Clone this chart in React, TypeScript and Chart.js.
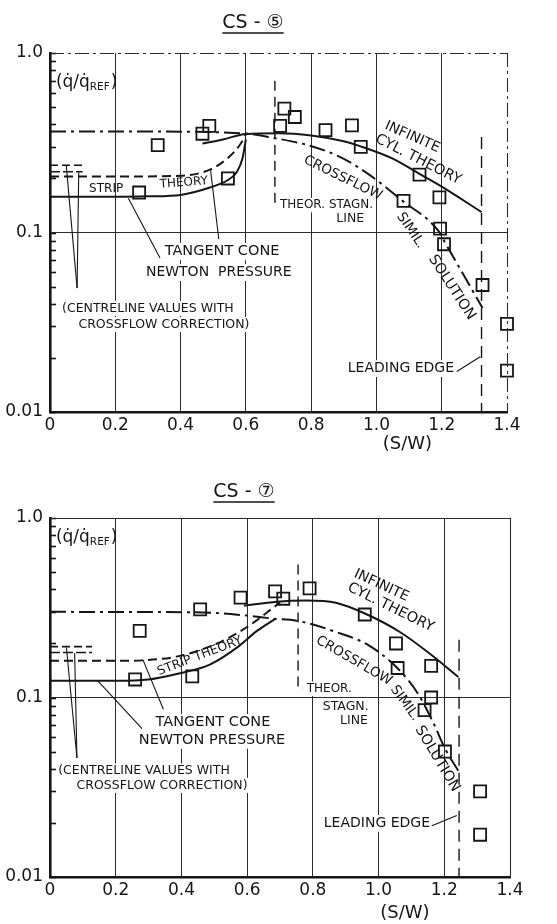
import React, { useEffect, useRef } from "react";
import { Chart, registerables } from "chart.js";

Chart.register(...registerables);

const FONT = "'DejaVu Sans', 'Noto Sans CJK JP', sans-serif";
const INK = "#161616";
const GRID = "#2c2c2c";

// ---------- shared axes ----------
const xTickValues = [0, 0.2, 0.4, 0.6, 0.8, 1.0, 1.2, 1.4];
const xTickLabels = ["0", "0.2", "0.4", "0.6", "0.8", "1.0", "1.2", "1.4"];
const yTickValues = [
  0.01, 0.02, 0.03, 0.04, 0.05, 0.06, 0.07, 0.08, 0.09,
  0.1, 0.2, 0.3, 0.4, 0.5, 0.6, 0.7, 0.8, 0.9, 1,
];
const yMajorValues = [0.01, 0.1, 1];
const yMajorLabels = ["0.01", "0.1", "1.0"];

// ---------- CS-5 ----------
const cs5MeasX = [0.273, 0.33, 0.467, 0.488, 0.545, 0.705, 0.718, 0.75, 0.844, 0.925, 0.952, 1.083, 1.132, 1.193, 1.195, 1.207, 1.325, 1.4, 1.4];
const cs5MeasY = [0.167, 0.307, 0.355, 0.393, 0.2, 0.393, 0.49, 0.44, 0.372, 0.395, 0.3, 0.15, 0.21, 0.157, 0.105, 0.086, 0.051, 0.031, 0.017];
const cs5CrossX = [0, 0.3, 0.6, 0.69, 0.78, 0.88, 0.97, 1.08, 1.19, 1.21, 1.325];
const cs5CrossY = [0.365, 0.365, 0.356, 0.335, 0.31, 0.268, 0.215, 0.15, 0.102, 0.088, 0.038];
const cs5InfX = [0.467, 0.53, 0.6, 0.7, 0.8, 0.9, 0.952, 1.05, 1.132, 1.2, 1.322];
const cs5InfY = [0.313, 0.33, 0.354, 0.357, 0.347, 0.322, 0.302, 0.258, 0.212, 0.18, 0.13];
const cs5StripX = [0, 0.2, 0.3, 0.4, 0.49, 0.545, 0.573, 0.59, 0.6];
const cs5StripY = [0.158, 0.158, 0.159, 0.162, 0.178, 0.196, 0.218, 0.26, 0.33];
const cs5ConeX = [0, 0.2, 0.4, 0.49, 0.545, 0.583, 0.6];
const cs5ConeY = [0.205, 0.205, 0.207, 0.224, 0.26, 0.31, 0.352];
const cs5StagX = [0.689, 0.689, 0.703];
const cs5StagY = [0.7, 0.148, 0.148];
const cs5EdgeX = [1.322, 1.322];
const cs5EdgeY = [0.34, 0.01];
const cs5CentreX = [0, 0.1];
const cs5CentreHiY = [0.237, 0.237];
const cs5CentreLoY = [0.218, 0.218];

// ---------- CS-7 ----------
const cs7MeasX = [0.259, 0.273, 0.433, 0.457, 0.58, 0.685, 0.71, 0.79, 0.958, 1.053, 1.058, 1.16, 1.16, 1.14, 1.202, 1.309, 1.309];
const cs7MeasY = [0.126, 0.235, 0.131, 0.31, 0.36, 0.39, 0.355, 0.405, 0.29, 0.2, 0.146, 0.15, 0.1, 0.085, 0.05, 0.03, 0.0172];
const cs7CrossX = [0, 0.46, 0.6, 0.68, 0.75, 0.87, 0.97, 1.057, 1.12, 1.167, 1.202, 1.243];
const cs7CrossY = [0.3, 0.298, 0.286, 0.275, 0.268, 0.232, 0.195, 0.146, 0.105, 0.072, 0.052, 0.039];
const cs7InfX = [0.59, 0.69, 0.78, 0.87, 0.965, 1.066, 1.162, 1.243];
const cs7InfY = [0.325, 0.342, 0.347, 0.337, 0.29, 0.231, 0.172, 0.13];
const cs7StripX = [0, 0.2, 0.3, 0.392, 0.488, 0.573, 0.63, 0.685];
const cs7StripY = [0.124, 0.124, 0.126, 0.136, 0.153, 0.192, 0.235, 0.274];
const cs7ConeX = [0, 0.2, 0.28, 0.392, 0.497, 0.573, 0.63, 0.673, 0.7];
const cs7ConeY = [0.16, 0.16, 0.161, 0.17, 0.196, 0.23, 0.27, 0.31, 0.338];
const cs7StagX = [0.755, 0.755, 0.77];
const cs7StagY = [0.55, 0.113, 0.113];
const cs7EdgeX = [1.245, 1.245];
const cs7EdgeY = [0.21, 0.01];
const cs7CentreX = [0, 0.128];
const cs7CentreHiY = [0.192, 0.192];
const cs7CentreLoY = [0.178, 0.178];

type Label = { text: string; x: number; y: number; rot: number; size: number; bg?: boolean };
type Leader = { x: number[]; y: number[] };

const cs5Leaders: Leader[] = [
  { x: [0.05, 0.083], y: [0.235, 0.049] },
  { x: [0.088, 0.083], y: [0.216, 0.049] },
  { x: [0.24, 0.337], y: [0.155, 0.072] },
  { x: [0.492, 0.517], y: [0.222, 0.092] },
  { x: [1.246, 1.318], y: [0.0168, 0.0203] },
];
const cs7Leaders: Leader[] = [
  { x: [0.05, 0.082], y: [0.19, 0.046] },
  { x: [0.075, 0.082], y: [0.177, 0.046] },
  { x: [0.145, 0.28], y: [0.124, 0.067] },
  { x: [0.283, 0.345], y: [0.162, 0.086] },
  { x: [1.162, 1.238], y: [0.0193, 0.022] },
];

const cs5Labels: Label[] = [
  { text: "STRIP", x: 0.172, y: 0.175, rot: 0, size: 12 },
  { text: "THEORY", x: 0.41, y: 0.189, rot: -4, size: 12 },
  { text: "INFINITE", x: 1.11, y: 0.34, rot: 24, size: 14 },
  { text: "CYL. THEORY", x: 1.128, y: 0.255, rot: 27, size: 14.5 },
  { text: "CROSSFLOW", x: 0.897, y: 0.201, rot: 26, size: 13.5 },
  { text: "SIMIL.", x: 1.105, y: 0.1026, rot: 56, size: 13.5 },
  { text: "SOLUTION", x: 1.231, y: 0.0494, rot: 57, size: 14.5 },
  { text: "THEOR. STAGN.", x: 0.847, y: 0.142, rot: 0, size: 12, bg: true },
  { text: "LINE", x: 0.92, y: 0.12, rot: 0, size: 12.5, bg: true },
  { text: "TANGENT CONE", x: 0.527, y: 0.0784, rot: 0, size: 14.5, bg: true },
  { text: "NEWTON  PRESSURE", x: 0.517, y: 0.0598, rot: 0, size: 14, bg: true },
  { text: "(CENTRELINE VALUES WITH", x: 0.3, y: 0.0378, rot: 0, size: 12.5, bg: true },
  { text: "CROSSFLOW CORRECTION)", x: 0.349, y: 0.0307, rot: 0, size: 12.5, bg: true },
  { text: "LEADING EDGE", x: 1.075, y: 0.01746, rot: 0, size: 14, bg: true },
];
const cs7Labels: Label[] = [
  { text: "STRIP THEORY", x: 0.456, y: 0.17, rot: -21, size: 12.5 },
  { text: "INFINITE", x: 1.009, y: 0.42, rot: 25, size: 14 },
  { text: "CYL. THEORY", x: 1.037, y: 0.317, rot: 26, size: 14.5 },
  { text: "CROSSFLOW", x: 0.925, y: 0.16, rot: 30, size: 13.5 },
  { text: "SIMIL.", x: 1.08, y: 0.093, rot: 54, size: 13.5 },
  { text: "SOLUTION", x: 1.179, y: 0.0455, rot: 59, size: 14.5 },
  { text: "THEOR.", x: 0.85, y: 0.112, rot: 0, size: 12, bg: true },
  { text: "STAGN.", x: 0.9, y: 0.089, rot: 0, size: 12.5, bg: true },
  { text: "LINE", x: 0.925, y: 0.0744, rot: 0, size: 12.5, bg: true },
  { text: "TANGENT CONE", x: 0.496, y: 0.0724, rot: 0, size: 14.5, bg: true },
  { text: "NEWTON PRESSURE", x: 0.493, y: 0.058, rot: 0, size: 14.5, bg: true },
  { text: "(CENTRELINE VALUES WITH", x: 0.286, y: 0.0389, rot: 0, size: 12.5, bg: true },
  { text: "CROSSFLOW CORRECTION)", x: 0.341, y: 0.0324, rot: 0, size: 12.5, bg: true },
  { text: "LEADING EDGE", x: 0.995, y: 0.0199, rot: 0, size: 14, bg: true },
];

type Spec = {
  title: string;
  titleX: number;
  titleBaseline: number;
  padTop: number;
  padRight: number;
  xAxisH: number;
  measX: number[];
  measY: number[];
  crossX: number[];
  crossY: number[];
  infX: number[];
  infY: number[];
  stripX: number[];
  stripY: number[];
  coneX: number[];
  coneY: number[];
  stagX: number[];
  stagY: number[];
  edgeX: number[];
  edgeY: number[];
  centreX: number[];
  centreHiY: number[];
  centreLoY: number[];
  leaders: Leader[];
  labels: Label[];
  qLabelX: number;
  qLabelY: number;
  xTitleX: number;
  xTitleDy: number;
  dashedFrame: boolean;
};

const spec5: Spec = {
  title: "CS - ⑤", titleX: 253, titleBaseline: 28, padTop: 53, padRight: 50, xAxisH: 50,
  measX: cs5MeasX, measY: cs5MeasY, crossX: cs5CrossX, crossY: cs5CrossY,
  infX: cs5InfX, infY: cs5InfY, stripX: cs5StripX, stripY: cs5StripY,
  coneX: cs5ConeX, coneY: cs5ConeY, stagX: cs5StagX, stagY: cs5StagY,
  edgeX: cs5EdgeX, edgeY: cs5EdgeY, centreX: cs5CentreX, centreHiY: cs5CentreHiY, centreLoY: cs5CentreLoY,
  leaders: cs5Leaders, labels: cs5Labels, qLabelX: 0.018, qLabelY: 0.68,
  xTitleX: 1.095, xTitleDy: 32, dashedFrame: true,
};
const spec7: Spec = {
  title: "CS - ⑦", titleX: 244, titleBaseline: 35, padTop: 56, padRight: 47, xAxisH: 47,
  measX: cs7MeasX, measY: cs7MeasY, crossX: cs7CrossX, crossY: cs7CrossY,
  infX: cs7InfX, infY: cs7InfY, stripX: cs7StripX, stripY: cs7StripY,
  coneX: cs7ConeX, coneY: cs7ConeY, stagX: cs7StagX, stagY: cs7StagY,
  edgeX: cs7EdgeX, edgeY: cs7EdgeY, centreX: cs7CentreX, centreHiY: cs7CentreHiY, centreLoY: cs7CentreLoY,
  leaders: cs7Leaders, labels: cs7Labels, qLabelX: 0.018, qLabelY: 0.775,
  xTitleX: 1.08, xTitleDy: 36, dashedFrame: false,
};

const pts = (xs: number[], ys: number[]) => xs.map((x, i) => ({ x, y: ys[i] }));

const lineDs = (xs: number[], ys: number[], extra: any = {}) => ({
  data: pts(xs, ys),
  showLine: true,
  pointRadius: 0,
  pointHoverRadius: 0,
  borderColor: INK,
  backgroundColor: INK,
  borderWidth: 2,
  fill: false,
  tension: 0,
  ...extra,
});

const near = (a: number, b: number) => Math.abs(a - b) < 1e-9 * Math.max(1, b) + 1e-12;

function buildConfig(s: Spec): any {
  const datasets: any[] = [
    lineDs(s.crossX, s.crossY, { borderDash: [16, 5, 3, 5], cubicInterpolationMode: "monotone" }),
    lineDs(s.infX, s.infY, { cubicInterpolationMode: "monotone" }),
    lineDs(s.stripX, s.stripY, { cubicInterpolationMode: "monotone" }),
    lineDs(s.coneX, s.coneY, { borderDash: [9, 5], cubicInterpolationMode: "monotone" }),
    lineDs(s.stagX, s.stagY, { borderDash: [10, 6], borderWidth: 1.4 }),
    lineDs(s.edgeX, s.edgeY, { borderDash: [12, 7], borderWidth: 1.4, clip: false }),
    lineDs(s.centreX, s.centreHiY, { borderDash: [8, 4], borderWidth: 1.6 }),
    lineDs(s.centreX, s.centreLoY, { borderDash: [10, 3], borderWidth: 1.6 }),
    ...s.leaders.map((l) => lineDs(l.x, l.y, { borderWidth: 1.1 })),
    {
      data: pts(s.measX, s.measY),
      showLine: false,
      pointStyle: "rect",
      pointRadius: 8.5,
      pointHoverRadius: 8.5,
      pointBorderWidth: 1.8,
      borderColor: INK,
      backgroundColor: "rgba(0,0,0,0)",
      clip: false,
    },
  ];

  const decor = {
    id: "decor" + s.title,
    beforeDatasetsDraw(chart: any) {
      const ctx = chart.ctx;
      const xs = chart.scales.x;
      const ys = chart.scales.y;
      ctx.save();
      for (const l of s.labels) {
        const px = xs.getPixelForValue(l.x);
        const py = ys.getPixelForValue(l.y);
        ctx.font = `${l.size}px ${FONT}`;
        ctx.textAlign = "center";
        ctx.textBaseline = "middle";
        ctx.save();
        ctx.translate(px, py);
        ctx.rotate((l.rot * Math.PI) / 180);
        if (l.bg) {
          const w = ctx.measureText(l.text).width;
          ctx.fillStyle = "#ffffff";
          ctx.fillRect(-w / 2 - 2, -l.size * 0.6, w + 4, l.size * 1.2);
        }
        ctx.fillStyle = INK;
        ctx.fillText(l.text, 0, 0);
        ctx.restore();
      }
      ctx.restore();
    },
    afterDraw(chart: any) {
      const ctx = chart.ctx;
      const xs = chart.scales.x;
      const ys = chart.scales.y;
      const a = chart.chartArea;
      ctx.save();
      // inward minor ticks on y axis
      ctx.strokeStyle = INK;
      ctx.lineWidth = 1.6;
      for (const v of yTickValues) {
        const py = Math.round(ys.getPixelForValue(v)) + 0.5;
        ctx.beginPath();
        ctx.moveTo(a.left, py);
        ctx.lineTo(a.left + 6, py);
        ctx.stroke();
      }
      // top & right frame
      ctx.lineWidth = 1.1;
      ctx.strokeStyle = GRID;
      ctx.setLineDash(s.dashedFrame ? [14, 4, 3, 4] : []);
      ctx.beginPath();
      ctx.moveTo(a.left, a.top + 0.5);
      ctx.lineTo(a.right, a.top + 0.5);
      ctx.moveTo(a.right + 0.5, a.top);
      ctx.lineTo(a.right + 0.5, a.bottom);
      ctx.stroke();
      ctx.setLineDash([]);
      // title with underline
      ctx.fillStyle = INK;
      ctx.font = `19px ${FONT}`;
      ctx.textAlign = "center";
      ctx.textBaseline = "alphabetic";
      ctx.fillText(s.title, s.titleX, s.titleBaseline);
      const tw = ctx.measureText(s.title).width;
      ctx.lineWidth = 1.6;
      ctx.strokeStyle = INK;
      ctx.beginPath();
      ctx.moveTo(s.titleX - tw / 2, s.titleBaseline + 5);
      ctx.lineTo(s.titleX + tw / 2, s.titleBaseline + 5);
      ctx.stroke();
      // (q/q REF) label
      const qx = xs.getPixelForValue(s.qLabelX);
      const qy = ys.getPixelForValue(s.qLabelY);
      ctx.textAlign = "left";
      ctx.textBaseline = "middle";
      ctx.font = `17px ${FONT}`;
      const part1 = "(q\u0307/q\u0307";
      ctx.fillText(part1, qx, qy);
      let cx = qx + ctx.measureText(part1).width;
      ctx.font = `10.5px ${FONT}`;
      ctx.fillText("REF", cx, qy + 4);
      cx += ctx.measureText("REF").width + 1;
      ctx.font = `17px ${FONT}`;
      ctx.fillText(")", cx, qy);
      // x axis title
      ctx.textAlign = "center";
      ctx.font = `18px ${FONT}`;
      ctx.fillText("(S/W)", xs.getPixelForValue(s.xTitleX), a.bottom + s.xTitleDy);
      ctx.restore();
    },
  };

  return {
    type: "scatter",
    data: { datasets },
    options: {
      responsive: false,
      animation: false,
      devicePixelRatio: 1,
      events: [],
      layout: { padding: { top: s.padTop, right: s.padRight, left: 0, bottom: 0 } },
      plugins: { legend: { display: false }, tooltip: { enabled: false }, title: { display: false } },
      scales: {
        x: {
          type: "linear",
          min: 0,
          max: 1.4,
          afterBuildTicks: (sc: any) => {
            sc.ticks = xTickValues.map((v) => ({ value: v }));
          },
          afterFit: (sc: any) => {
            sc.height = s.xAxisH;
          },
          ticks: {
            autoSkip: false,
            maxRotation: 0,
            padding: 3,
            color: INK,
            font: { family: FONT, size: 17 },
            callback: (v: number) => {
              const i = xTickValues.findIndex((t) => near(t, v));
              return i >= 0 ? xTickLabels[i] : "";
            },
          },
          grid: {
            drawTicks: false,
            lineWidth: 1,
            color: (c: any) => {
              const v = c.tick ? c.tick.value : -1;
              return near(v, 0) || near(v, 1.4) ? "rgba(0,0,0,0)" : GRID;
            },
          },
          border: { color: INK, width: 2.6 },
        },
        y: {
          type: "logarithmic",
          min: 0.01,
          max: 1,
          afterBuildTicks: (sc: any) => {
            sc.ticks = yTickValues.map((v) => ({ value: v }));
          },
          afterFit: (sc: any) => {
            sc.width = 50;
          },
          ticks: {
            autoSkip: false,
            padding: 7,
            color: INK,
            font: { family: FONT, size: 17 },
            callback: (v: number) => {
              const i = yMajorValues.findIndex((t) => near(t, v));
              return i >= 0 ? yMajorLabels[i] : "";
            },
          },
          grid: {
            drawTicks: false,
            lineWidth: 1,
            color: (c: any) => (c.tick && near(c.tick.value, 0.1) ? GRID : "rgba(0,0,0,0)"),
          },
          border: { color: INK, width: 2.6 },
        },
      },
    },
    plugins: [decor],
  };
}

function Panel({ spec, top }: { spec: Spec; top: number }) {
  const ref = useRef<HTMLCanvasElement | null>(null);
  useEffect(() => {
    if (!ref.current) return;
    const chart = new Chart(ref.current, buildConfig(spec));
    return () => chart.destroy();
  }, [spec]);
  return (
    <canvas
      ref={ref}
      width={557}
      height={462}
      style={{ position: "absolute", left: 0, top, width: 557, height: 462, display: "block" }}
    />
  );
}

export default function App() {
  return (
    <div
      style={{
        position: "absolute",
        left: 0,
        top: 0,
        width: 557,
        height: 924,
        background: "#ffffff",
        overflow: "hidden",
      }}
    >
      <Panel spec={spec5} top={0} />
      <Panel spec={spec7} top={462} />
    </div>
  );
}
